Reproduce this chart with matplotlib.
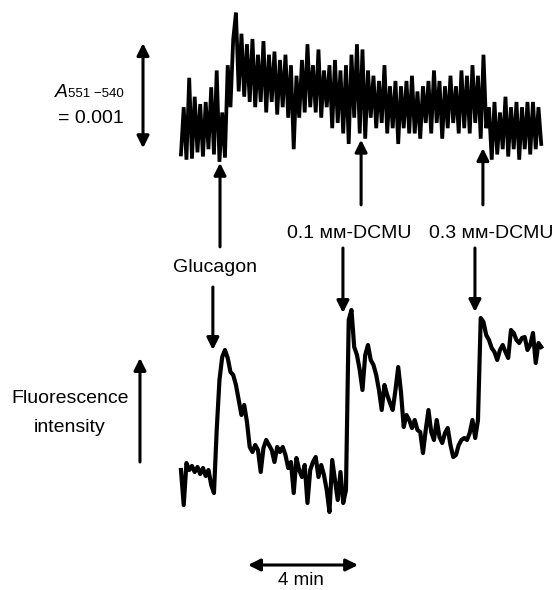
import numpy as np
import matplotlib
matplotlib.use("Agg")
import matplotlib.pyplot as plt

plt.rcParams['font.family'] = ['Liberation Sans', 'DejaVu Sans']

# sampling interval of both recordings (min)
dt = 0.1

# A551-540 trace, units of 1e-4 absorbance (10 = 0.001)
absorb = [1.0, 5.5, 0.5, 8.3, 0.6, 6.5, 1.2, 5.8, 0.8, 6.0,
          1.5, 7.4, 1.0, 9.0, 0.3, 5.0, 0.7, 9.5, 5.5, 12.0,
          14.5, 7.0, 12.5, 6.5, 11.5, 6.0, 12.0, 5.5, 10.5, 6.0,
          11.8, 5.0, 10.5, 6.0, 10.8, 4.8, 10.0, 5.5, 10.5, 4.5,
          9.5, 1.5, 8.5, 4.5, 10.0, 5.0, 11.5, 5.5, 9.5, 5.0,
          11.0, 4.5, 9.0, 5.5, 9.5, 3.5, 10.0, 4.0, 9.0, 3.0,
          9.5, 2.0, 10.5, 4.5, 11.5, 3.0, 11.0, 2.5, 9.0, 4.5,
          8.5, 3.5, 8.0, 4.0, 9.5, 3.0, 7.5, 3.5, 8.0, 2.0,
          7.5, 3.5, 8.0, 3.0, 8.5, 3.0, 7.0, 2.5, 7.5, 4.0,
          8.0, 3.0, 9.0, 4.0, 8.0, 2.5, 7.5, 3.5, 8.5, 4.0,
          7.5, 3.0, 9.0, 3.5, 8.5, 3.0, 9.5, 4.0, 8.5, 2.5,
          10.5, 3.5, 5.5, 0.5, 6.0, 1.0, 5.0, 1.5, 6.5, 0.8,
          5.5, 1.5, 6.0, 0.5, 5.5, 1.5, 6.0, 1.0, 6.0, 1.5,
          5.5, 2.0]

# fluorescence trace, arbitrary units
fluor = [5.0, 1.5, 5.7, 5.0, 5.4, 4.8, 5.3, 4.6, 5.2, 4.4,
         5.0, 3.5, 2.7, 9.0, 14.0, 16.3, 17.0, 16.2, 14.8, 14.5,
         13.5, 12.0, 10.5, 11.5, 9.8, 7.3, 6.8, 7.5, 7.0, 4.8,
         7.2, 8.0, 7.5, 7.0, 5.8, 7.3, 6.8, 7.3, 6.5, 5.2,
         5.8, 2.7, 6.2, 5.0, 4.3, 5.5, 1.7, 5.0, 5.8, 6.3,
         4.3, 5.5, 4.5, 3.0, 0.8, 6.0, 4.0, 2.0, 4.8, 1.7,
         3.0, 20.0, 21.0, 17.3, 16.5, 15.0, 13.0, 16.5, 17.5, 16.0,
         15.5, 14.5, 13.0, 11.0, 13.5, 12.5, 11.7, 11.0, 13.0, 15.3,
         12.8, 9.3, 10.5, 10.0, 9.2, 10.0, 9.0, 8.8, 6.7, 9.0,
         11.0, 8.8, 8.0, 10.0, 8.3, 7.7, 8.7, 9.2, 7.5, 6.3,
         6.5, 7.5, 8.0, 8.2, 8.0, 8.7, 10.0, 8.2, 10.0, 20.2,
         19.8, 18.5, 18.0, 17.2, 16.8, 16.0, 17.0, 17.5, 16.8, 16.2,
         19.0, 18.7, 18.0, 17.7, 18.2, 18.3, 17.0, 17.5, 18.7, 15.7,
         17.7, 17.3]

# additions (min): label, time seen on absorbance trace, time on fluorescence trace
add_labels = ['Glucagon', '0.1 ᴍᴍ-DCMU', '0.3 ᴍᴍ-DCMU']
add_t_abs = [1.42, 6.55, 10.98]
add_t_fl = [1.16, 5.89, 10.69]

t_abs = np.arange(len(absorb)) * dt
t_fl = np.arange(len(fluor)) * dt

fig = plt.figure(figsize=(5.58, 5.90), dpi=100)
ax_top = fig.add_axes([0, 0, 1, 1])
ax_bot = fig.add_axes([0, 0, 1, 1])
for ax in (ax_top, ax_bot):
    ax.set_xlim(-6.58, 13.71)
    ax.axis('off')
    ax.patch.set_alpha(0)
ax_top.set_ylim(-40.48, 15.71)
ax_bot.set_ylim(-7.0, 52.0)

ax_top.plot(t_abs, absorb, color='black', lw=2.7, solid_joinstyle='miter')
ax_bot.plot(t_fl, fluor, color='black', lw=3.0, solid_joinstyle='round')

head = '-|>,head_length=0.4,head_width=0.2'
dhead = '<|-|>,head_length=0.4,head_width=0.2'
aprops = dict(arrowstyle=head, color='black', lw=2.2, mutation_scale=18,
              shrinkA=0, shrinkB=0)

# arrows pointing up at the absorbance trace
arrow_tip_abs = [0.2, 2.4, 1.6]
arrow_tail_abs = [-7.8, -3.8, -3.8]
for t, tip, tail in zip(add_t_abs, arrow_tip_abs, arrow_tail_abs):
    ax_top.annotate('', xy=(t, tip), xytext=(t, tail), arrowprops=aprops,
                    annotation_clip=False)

# arrows pointing down at the fluorescence trace
arrow_tip_fl = [17.0, 20.7, 20.8]
arrow_tail_fl = [23.3, 27.2, 27.2]
for t, tip, tail in zip(add_t_fl, arrow_tip_fl, arrow_tail_fl):
    ax_bot.annotate('', xy=(t, tip), xytext=(t, tail), arrowprops=aprops,
                    annotation_clip=False)

# labels of the additions
ax_top.text(1.24, -10.19, add_labels[0], ha='center', va='baseline', fontsize=14)
ax_top.text(6.11, -6.95, add_labels[1], ha='center', va='baseline', fontsize=14)
ax_top.text(11.27, -6.95, add_labels[2], ha='center', va='baseline', fontsize=14)

# absorbance scale bar (0.001 = 10 units)
ax_top.annotate('', xy=(-1.38, 11.6), xytext=(-1.38, 1.6),
                arrowprops=dict(arrowstyle=dhead, color='black', lw=2.2,
                                mutation_scale=18, shrinkA=0, shrinkB=0))
ax_top.text(-4.58, 6.48, 'A', fontstyle='italic', fontsize=14, va='baseline')
ax_top.text(-4.11, 6.48, '551 \u2212540', fontsize=9.5, va='baseline')
ax_top.text(-4.47, 4.0, '= 0.001', fontsize=14, va='baseline')

# fluorescence direction arrow
ax_bot.annotate('', xy=(-1.49, 16.2), xytext=(-1.49, 5.8), arrowprops=aprops)
ax_bot.text(-4.04, 11.7, 'Fluorescence', ha='center', va='baseline', fontsize=14)
ax_bot.text(-4.04, 8.8, 'intensity', ha='center', va='baseline', fontsize=14)

# time scale bar
ax_bot.annotate('', xy=(2.44, -4.5), xytext=(6.44, -4.5),
                arrowprops=dict(arrowstyle=dhead, color='black', lw=2.2,
                                mutation_scale=18, shrinkA=0, shrinkB=0))
ax_bot.text(4.36, -6.5, '4 min', ha='center', va='baseline', fontsize=13.5)

fig.savefig('out.png', dpi=100)
